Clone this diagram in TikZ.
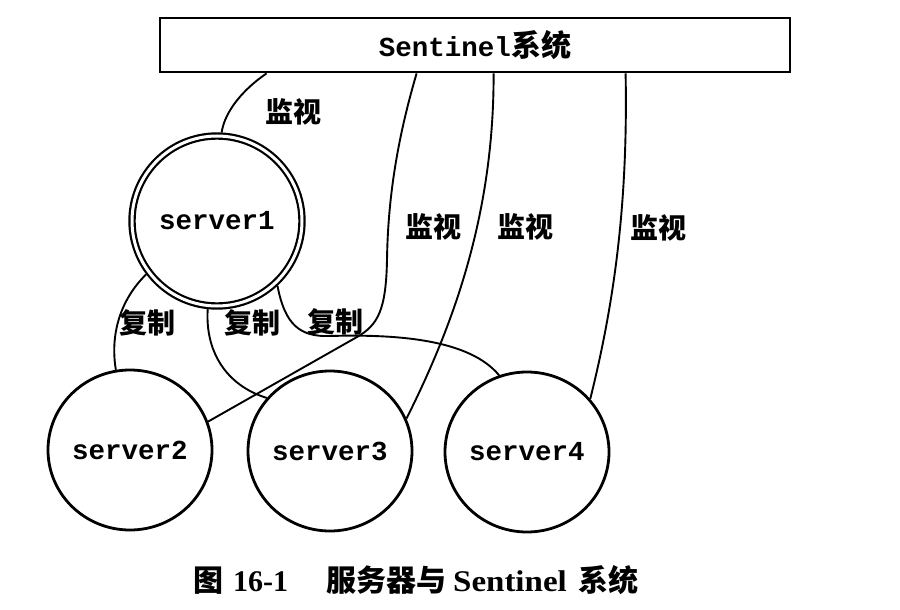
\documentclass[tikz,border=0pt]{standalone}
\usepackage{fontspec}
\setmainfont{Liberation Serif}
\setmonofont{Liberation Mono}
\newfontfamily\cjk{Noto Sans CJK SC}
\usetikzlibrary{shapes.geometric}
\tikzset{
  box/.style={draw, line width=2.8pt, minimum width=630pt, minimum height=54pt, inner sep=0pt},
  srv/.style={draw, ellipse, line width=2.8pt, minimum width=164pt, minimum height=160pt, inner sep=0pt},
  master/.style={draw, circle, double, line width=2.2pt, double distance=3pt, minimum size=170pt, inner sep=0pt, outer sep=3.7pt},
  mono/.style={font=\ttfamily\bfseries\fontsize{27.5}{28}\selectfont},
  link/.style={line width=1.9pt},
  lbl/.style={font=\cjk\bfseries\fontsize{28}{28}\selectfont, inner sep=0pt},
  capt/.style={font=\bfseries\fontsize{30}{30}\selectfont, inner sep=0pt}
}
\begin{document}
\begin{tikzpicture}[x=1pt, y=-1pt]
\useasboundingbox (0,0) rectangle (900,610);
% nodes
\node[box] (sys) at (475,45) {{\ttfamily\bfseries\fontsize{27.5}{28}\selectfont Sentinel}{\cjk\bfseries\fontsize{30}{30}\selectfont 系统}};
\node[master, mono] (s1) at (217,221) {server1};
\node[srv, mono] (s2) at (130,450) {server2};
\node[srv, mono] (s3) at (330,451) {server3};
\node[srv, mono] (s4) at (527,452) {server4};
% monitoring links
\draw[link] ([xshift=108pt]sys.south west) .. controls (245,88) and (225,110) .. (s1.87);
\draw[link] ([xshift=258pt]sys.south west) .. controls (400,130) and (388,190) .. (387,260)
            .. controls (386,310) and (378,325) .. (357,337) -- (s2.20);
\draw[link] ([xshift=335pt]sys.south west) .. controls (494,210) and (456,320) .. (s3.23);
\draw[link] ([xshift=467pt]sys.south west) .. controls (628,200) and (615,300) .. (s4.40);
% replication links
\draw[link] (s1.217) .. controls (120,300) and (110,335) .. (s2.100);
\draw[link] (s1.264) .. controls (205,350) and (225,385) .. (s3.140);
\draw[link] (s1.313) .. controls (285,325) and (300,337) .. (330,336)
            .. controls (400,334) and (470,340) .. (s4.110);
% labels
\node[lbl] (m1) at (293,112) {监视};
\node[lbl] (m2) at (433,227) {监视};
\node[lbl] (m3) at (525,227) {监视};
\node[lbl] (m4) at (658,228) {监视};
\node[lbl] (r1) at (147,323) {复制};
\node[lbl] (r2) at (252,323) {复制};
\node[lbl] (r3) at (335,322) {复制};
% caption
\node[capt] (cap) at (416,580) {{\cjk\bfseries 图}\hspace{10pt}16-1\hspace{38pt}{\cjk\bfseries 服务器与}\hspace{7pt}\scalebox{1.1}[1]{Sentinel}\hspace{12pt}{\cjk\bfseries 系统}};
\end{tikzpicture}
\end{document}
